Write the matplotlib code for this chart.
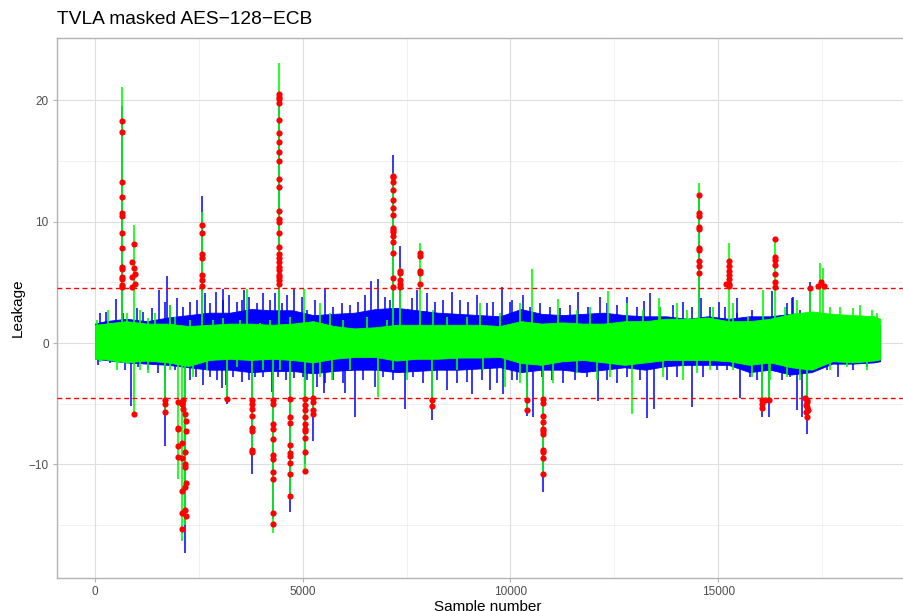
import matplotlib
matplotlib.use("Agg")
import matplotlib.pyplot as plt

# ---------------- data ----------------
# dense core of each trace, per 500-sample bin
env_x = [0, 250, 750, 1250, 1750, 2250, 2750, 3250, 3750, 4250, 4750, 5250, 5750,
         6250, 6750, 7250, 7750, 8250, 8750, 9250, 9750, 10250, 10750, 11250,
         11750, 12250, 12750, 13250, 13750, 14250, 14750, 15250, 15750, 16250,
         16750, 17250, 17750, 18250, 18750, 18900]
blue_hi = [1.6, 1.8, 2.0, 1.8, 2.1, 2.3, 2.5, 2.5, 2.8, 2.7, 2.7, 2.3, 2.4,
           2.5, 2.8, 2.9, 2.7, 2.5, 2.4, 2.3, 2.2, 2.8, 2.4, 2.3,
           2.4, 2.5, 2.3, 2.2, 2.2, 2.0, 2.2, 2.0, 2.2, 2.2,
           2.4, 2.5, 1.6, 1.6, 1.6, 1.5]
blue_lo = [-1.3, -1.4, -1.6, -1.7, -1.8, -2.0, -2.2, -2.2, -2.4, -2.3, -2.3, -2.5, -2.3,
           -2.2, -2.2, -2.4, -2.3, -2.2, -2.2, -2.1, -2.0, -2.4, -2.2, -2.2,
           -2.4, -2.2, -2.0, -2.2, -1.9, -1.8, -1.8, -1.8, -2.4, -2.2,
           -2.6, -2.4, -1.7, -1.7, -1.6, -1.5]
green_hi = [1.5, 1.6, 1.8, 1.6, 1.6, 1.4, 1.5, 1.6, 1.6, 1.5, 1.6, 1.8, 1.4,
            1.2, 1.3, 1.5, 1.5, 1.5, 1.5, 1.5, 1.4, 1.8, 1.6, 1.7,
            1.6, 1.6, 1.8, 1.8, 2.0, 2.0, 2.1, 1.8, 1.8, 2.0,
            2.4, 2.6, 2.4, 2.3, 2.2, 2.0]
green_lo = [-1.3, -1.35, -1.6, -1.45, -1.6, -1.9, -1.4, -1.3, -1.4, -1.3, -1.4, -1.6, -1.3,
            -1.15, -1.15, -1.45, -1.3, -1.3, -1.2, -1.2, -1.15, -1.65, -1.8, -1.5,
            -1.4, -1.6, -1.8, -1.6, -1.4, -1.4, -1.4, -1.5, -1.8, -1.6,
            -2.0, -2.2, -1.5, -1.6, -1.45, -1.35]

# individual excursions of the blue trace (sample, value)
blue_spike_x = [650, 870, 1690, 1741, 2174, 2575, 3169, 3780, 4430, 4695, 5250, 7175,
                7340, 8104, 10400, 10535, 10790, 14540, 16060, 16230, 17130, 4290, 5055,
                505, 1548, 1981, 2287, 2913, 3073, 3530, 3587, 3715, 4052, 4333, 4630,
                4790, 4982, 5536, 6498, 6640, 6800, 7744, 7985, 8587, 9188, 9789, 10029,
                10293, 11634, 12156, 12814, 13215, 13360, 14162, 14580, 15030, 15453,
                16287, 16649, 16769, 16793, 17210,
                2607, 3049, 4252, 4597, 5512, 6017, 6258, 6740, 7462, 8465, 9067, 9508,
                9829, 12116, 13278, 13455, 14360, 15525, 16889,
                121, 265, 682, 1003, 1163, 1364, 1685, 1805, 2126, 2446, 2647, 2767,
                3088, 3232, 3409, 3890, 4211, 4492,
                80, 361, 722, 1043, 1284, 1524, 1685, 1925, 2286, 2430, 2767, 2928,
                3152, 3329, 3529, 3714, 3850, 4050, 4411, 4788, 5013,
                5094, 5295, 5736, 5937, 6137, 6338, 6979, 7099, 7621, 8182, 8383, 8784,
                8984, 9425, 9586, 9987,
                5094, 5335, 5536, 5736, 5977, 6458, 6939, 7180, 7661, 7901, 8222, 8703,
                8944, 9305, 9666, 10027,
                10470, 10711, 10951, 11192, 11433, 11874, 12315, 12555, 13036, 13598,
                13919, 14360, 14801,
                10149, 10390, 10751, 10992, 11272, 11553, 11834, 12315, 12555, 12796,
                13117, 13758, 13999, 14641, 14961,
                15164, 15445, 15806, 16127, 16969,
                15204, 15766, 15926, 16528, 16728, 17009, 17610, 17891, 18252, 18573]
blue_spike_y = [19.5, -5.2, -8.5, 5.56, -17.3, 12.1, -5.06, -10.8, 20.0, -13.9, -8.1, 15.5,
                8.0, -6.36, -6.0, -6.1, -12.3, 12.0, -6.1, -6.1, -7.5, -14.5, -10.0,
                3.6, 4.4, 3.68, 3.41, 4.23, 4.46, 3.54, 4.38, 3.82, 4.1, 4.1, 3.95,
                4.5, 3.82, 4.5, 3.96, 5.15, 5.3, 4.37, 4.1, 4.23, 3.96, 4.6, 3.54,
                3.96, 4.23, 3.82, 3.82, 3.5, 4.1, 3.41, 3.68, 3.41, 3.7,
                4.3, 3.27, 3.68, 3.77, 5.03,
                -3.46, -3.74, -4.01, -3.05, -4.15, -4.1, -6.1, -3.6, -5.4, -3.9, -4.2, -3.9,
                -4.2, -4.8, -6.2, -5.4, -5.27, -4.56, -5.5,
                2.45, 2.58, 2.45, 2.86, 2.58, 2.86, 3.41, 3.13, 3.0, 3.55, 4.1, 3.27,
                3.55, 3.96, 3.41, 3.27, 3.55, 3.27,
                -1.81, -1.67, -2.22, -1.95, -2.22, -2.5, -2.77, -2.22, -3.05, -2.77, -2.77, -3.05,
                -3.46, -2.77, -3.19, -3.05, -2.77, -2.77, -2.77, -2.91, -2.77,
                2.72, 3.55, 3.0, 3.27, 3.13, 3.41, 3.82, 3.55, 3.68, 3.41, 3.55, 3.55,
                3.41, 3.27, 3.41, 3.41,
                -3.05, -3.6, -3.32, -3.05, -3.32, -3.05, -2.77, -3.05, -2.77, -3.32, -3.05, -3.32,
                -3.19, -3.05, -3.32, -3.05,
                3.0, 3.27, 3.0, 2.86, 3.13, 3.0, 3.27, 3.13, 3.0, 3.0,
                3.13, 3.0, 3.0,
                -3.05, -3.6, -2.77, -3.05, -3.32, -3.05, -2.77, -3.05, -3.32, -2.77,
                -3.05, -3.05, -2.77, -2.77, -2.22,
                3.0, 2.45, 2.72, 2.17, 2.72,
                -2.22, -2.77, -3.05, -3.05, -2.77, -6.07, -2.22, -2.77, -2.22, -1.95]

# individual excursions of the green trace (sample, value)
green_spike_x = [650, 950, 940, 1690, 1990, 2100, 2170, 2575, 3180, 3650, 3780, 4290,
                 4430, 4695, 5030, 5055, 5250, 6820, 7175, 7340, 7820, 8110, 10400,
                 10520, 10790, 12350, 12933, 13575, 14540, 15260, 16060, 16089, 16230,
                 16370, 17130, 17210, 17450, 17520,
                 40, 321, 762, 1083, 1284, 1444, 1805, 1925, 2286, 2847, 3088, 3489,
                 3970, 4211, 4692, 4933,
                 121, 522, 1083, 1284, 1805, 2366, 2687, 3409, 4050, 4451,
                 5415, 5656, 5977, 6538, 7019, 8142, 8463, 8944, 9265, 9746,
                 5415, 5696, 6137, 7180, 7500, 8703, 9345, 9866,
                 10230, 11152, 11593, 11914, 12796, 13197, 13598, 13999, 14240, 14881,
                 10230, 11032, 11593, 12074, 12395, 13678, 14159, 14480, 14801,
                 15365, 15726, 16608, 16889, 17691, 17931, 18252, 18412, 18693, 18813,
                 15365, 15806, 16247, 16648, 16969, 17691, 18092, 18573]
green_spike_y = [21.1, 9.75, -5.85, -5.7, -11.2, -16.3, -15.0, 10.8, -4.6, 4.45, -9.0, -15.7,
                 23.1, -12.8, 4.45, -10.8, -6.0, -4.45, 14.0, 6.2, 8.28, -5.3, -5.6,
                 6.07, -11.0, 4.3, -5.85, 3.7, 13.2, 8.28, -5.4, 4.4, -4.8,
                 8.56, -6.2, 4.6, 6.6, 6.2,
                 1.9, 2.72, 2.45, 2.72, 2.03, 2.45, 3.13, 2.17, 1.9, 1.9, 2.03, 1.9,
                 1.62, 1.9, 2.17, 1.62,
                 -1.54, -2.22, -2.22, -2.5, -2.22, -2.77, -2.22, -1.95, -2.22, -2.22,
                 3.27, 2.45, 1.9, 2.17, 1.9, 2.72, 2.17, 2.17, 3.27, 2.45,
                 -2.77, -3.05, -2.22, -2.22, -3.05, -2.22, -2.22, -3.6,
                 3.27, 3.6, 2.72, 3.0, 3.27, 2.72, 3.0, 3.27, 2.72, 3.0,
                 -3.32, -3.32, -2.5, -3.05, -2.77, -2.77, -3.05, -2.5, -2.22,
                 3.27, 2.17, 3.0, 3.55, 3.0, 3.0, 2.86, 3.13, 2.72, 2.45,
                 -2.22, -2.77, -3.05, -2.77, -3.05, -2.22, -1.95, -2.22]

# samples flagged as leaking (red points)
leak_x = ([650, 640, 650, 660, 650, 640, 650, 660, 650, 640, 650, 660, 650, 640] +
          [950, 880, 950, 880, 955, 955, 890, 940] +
          [1690, 1690, 1690] +
          [1990, 1990, 2000, 1990, 1990] +
          [2120, 2100, 2120, 2170, 2190, 2190, 2100, 2170, 2100, 2170, 2170, 2180,
           2170, 2100, 2170, 2100, 2190, 2100] +
          [2575] * 7 + [3180] + [3780] * 8 + [4290] * 11 + [4430] * 25 +
          [4695] * 9 + [5055] * 10 + [5250] * 4 + [7175] * 15 + [7340] * 5 +
          [7820] * 5 + [8110] * 2 + [10400] * 2 + [10790] * 11 + [14540] * 10 +
          [15260] * 7 + [15190] + [16060] * 3 + [16120, 16230] + [16370] * 7 +
          [17100, 17130, 17150, 17110, 17140, 17160, 17120, 17140] +
          [17210, 17400, 17480, 17540])
leak_y = ([18.3, 17.4, 13.25, 12.0, 10.7, 10.45, 9.04, 7.8, 6.3, 6.07, 5.45, 5.25, 4.8, 4.6] +
          [8.16, 6.7, 6.16, 5.45, 5.7, 4.9, 4.6, -5.85] +
          [-4.66, -5.0, -5.7] +
          [-4.9, -7.0, -7.1, -8.5, -9.4] +
          [-4.66, -5.0, -5.4, -5.85, -6.4, -7.26, -8.25, -8.95, -9.5, -9.94, -10.2, -11.5,
           -11.9, -12.2, -13.75, -14.0, -14.3, -15.3] +
          [9.7, 9.07, 7.3, 7.0, 5.6, 5.2, 4.66] +
          [-4.58] +
          [-4.66, -5.0, -5.4, -6.0, -7.0, -7.26, -8.8, -8.95] +
          [-4.66, -5.0, -6.7, -7.1, -7.9, -9.2, -9.6, -10.65, -11.2, -14.0, -14.9] +
          [20.5, 20.3, 20.1, 19.8, 18.4, 17.3, 16.55, 15.76, 14.97, 13.5, 12.85, 10.9, 10.2,
           9.97, 9.07, 7.9, 7.37, 7.0, 6.64, 6.3, 6.0, 5.6, 5.45, 5.17, 4.83] +
          [-4.6, -6.1, -6.6, -8.4, -9.1, -9.3, -9.9, -10.8, -12.6] +
          [-4.6, -5.1, -5.56, -6.07, -6.7, -7.1, -7.26, -7.8, -8.95, -10.56] +
          [-4.5, -4.9, -5.56, -5.85] +
          [13.8, 13.7, 13.3, 12.65, 11.75, 11.13, 10.54, 9.46, 9.35, 9.12, 8.8, 8.36, 7.43,
           5.37, 4.6] +
          [5.96, 5.73, 5.17, 4.83, 4.6] +
          [7.43, 7.15, 5.96, 5.8, 4.83] +
          [-4.66, -5.2] +
          [-4.66, -5.56] +
          [-4.58, -4.94, -6.0, -6.55, -7.1, -7.26, -7.54, -8.8, -8.95, -9.5, -10.8] +
          [12.2, 10.7, 10.5, 9.55, 9.4, 7.85, 7.65, 6.8, 6.36, 5.8] +
          [6.8, 6.36, 5.96, 5.6, 5.3, 4.9, 4.66] + [4.9] +
          [-4.66, -5.0, -5.34] + [-4.7, -4.7] +
          [8.56, 7.1, 6.86, 6.44, 5.65, 5.03, 4.6] +
          [-4.5, -4.7, -4.9, -5.1, -5.3, -5.5, -5.7, -6.1] +
          [4.5, 4.66, 5.0, 4.66])

threshold = 4.5
x_ticks = [0, 5000, 10000, 15000]
x_minor = [2500, 7500, 12500, 17500]
y_ticks = [-10, 0, 10, 20]
y_minor = [-15, -5, 5, 15]

# ---------------- figure ----------------
plt.rcParams['font.family'] = ['Liberation Sans', 'DejaVu Sans']
W, H = 904, 611
fig = plt.figure(figsize=(W / 100, H / 100), dpi=100)
left, right, top, bottom = 57, 919, 38, 578
ax = fig.add_axes([left / W, 1 - bottom / H, (right - left) / W, (bottom - top) / H])

ax.set_xlim(-915, 19834)
ax.set_ylim(-19.37, 25.14)

# grid
for v in x_minor:
    ax.axvline(v, color='#ececec', lw=0.5, zorder=0)
for v in y_minor:
    ax.axhline(v, color='#ececec', lw=0.5, zorder=0)
for v in x_ticks:
    ax.axvline(v, color='#dedede', lw=0.8, zorder=0)
for v in y_ticks:
    ax.axhline(v, color='#dedede', lw=0.8, zorder=0)

# blue trace
ax.fill_between(env_x, blue_lo, blue_hi, color='#0000FF', lw=0.6, edgecolor='#0000FF', zorder=2)
ax.vlines(blue_spike_x, 0, blue_spike_y, color='#0000FF', lw=1.1, zorder=2)
# green trace
ax.fill_between(env_x, green_lo, green_hi, color='#00FF00', lw=0.6, edgecolor='#00FF00', zorder=3)
ax.vlines(green_spike_x, 0, green_spike_y, color='#00FF00', lw=1.2, zorder=3)

# thresholds
for t in (threshold, -threshold):
    ax.axhline(t, color='#FF0000', lw=1.0, linestyle=(0, (3.5, 2.5)), zorder=4)

# leaking points
ax.scatter(leak_x, leak_y, s=20, color='#FF0000', lw=0, zorder=5)

ax.set_xticks(x_ticks)
ax.set_xticklabels([str(v) for v in x_ticks])
ax.set_yticks(y_ticks)
ax.set_yticklabels([str(v).replace('-', '\u2212') for v in y_ticks])
ax.tick_params(axis='both', colors='#b3b3b3', length=3, width=0.8, labelsize=8.5,
               labelcolor='#4d4d4d', pad=3)
for s in ax.spines.values():
    s.set_color('#b3b3b3')
    s.set_linewidth(1.0)

ax.set_xlabel('Sample number', fontsize=11, color='black', labelpad=1)
ax.set_ylabel('Leakage', fontsize=11, color='black', labelpad=3)
fig.text(left / W, 1 - 20 / H, 'TVLA masked AES\u2212128\u2212ECB', fontsize=13.8,
         ha='left', va='center', color='black')

fig.savefig('out.png', dpi=100)
